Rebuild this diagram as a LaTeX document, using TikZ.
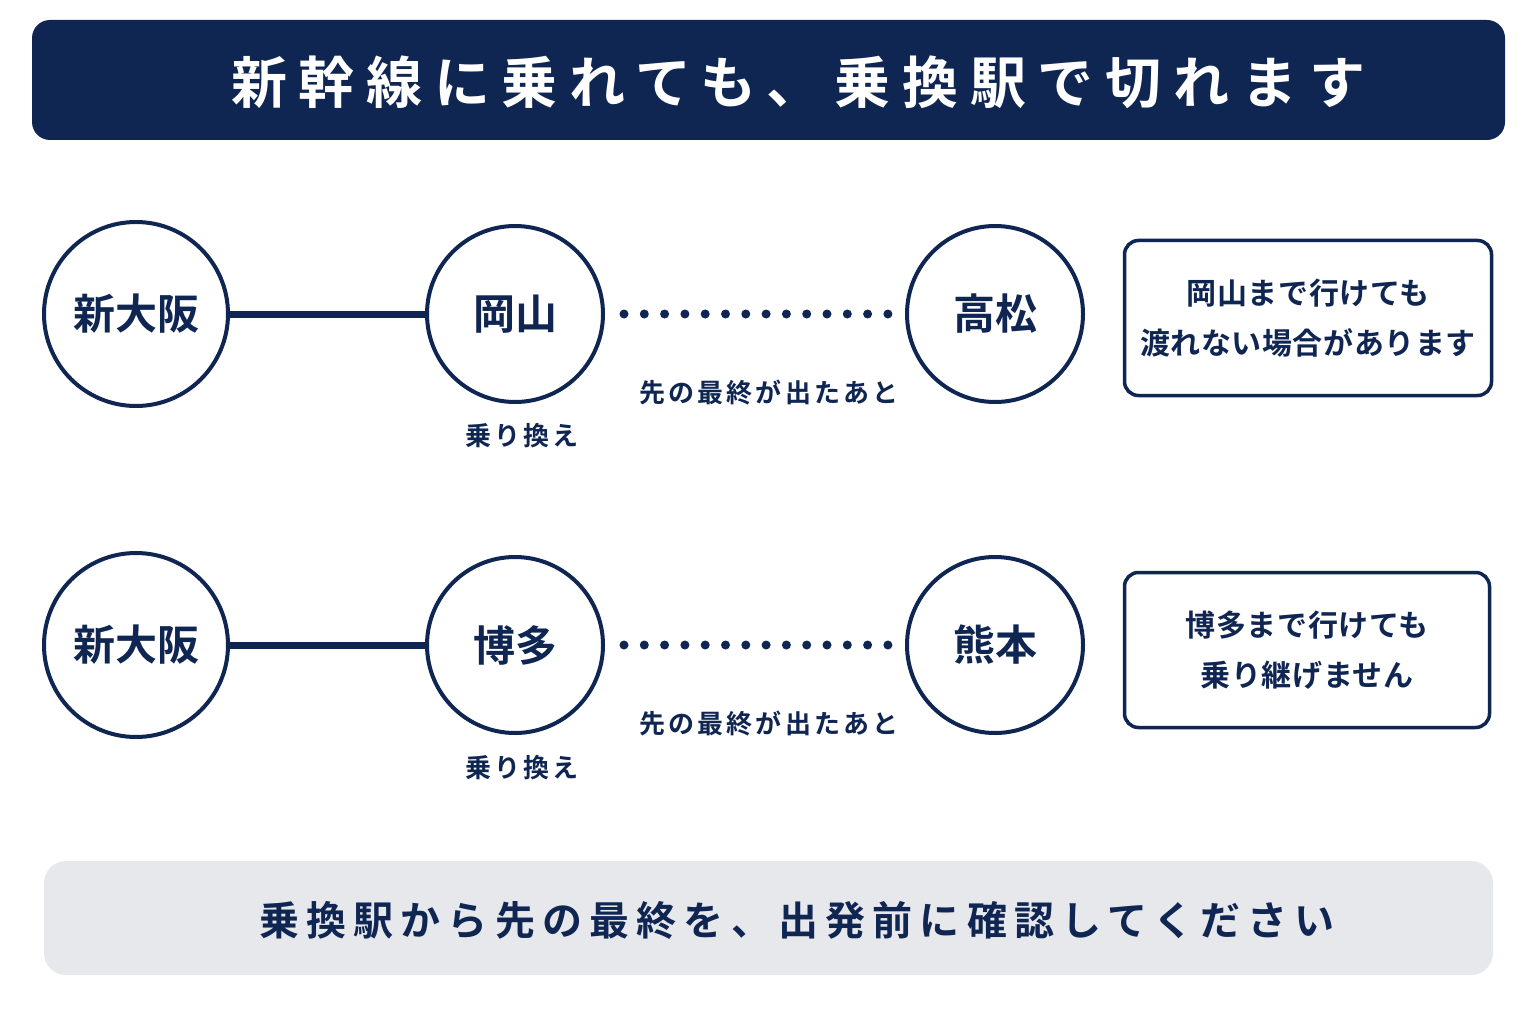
\documentclass[tikz,border=0pt]{standalone}
\usepackage{fontspec}
\setmainfont{Noto Sans CJK JP Bold}
\definecolor{navy}{HTML}{0F2552}
\definecolor{panel}{HTML}{E7E8EC}
\begin{document}
\begin{tikzpicture}[x=1pt, y=-1pt,
    station/.style={circle, draw=navy, line width=4pt, fill=white, text=navy, font=\fontsize{42}{46}\selectfont},
    note/.style={rectangle, rounded corners=14pt, draw=navy, line width=3.5pt, text=navy, align=center, font=\fontsize{30}{50}\selectfont\addfontfeature{LetterSpace=2}},
    small/.style={text=navy, font=\fontsize{26}{30}\selectfont\addfontfeature{LetterSpace=12}},
    solidline/.style={navy, line width=7pt},
    dotline/.style={navy, line width=9pt, line cap=round, dash pattern=on 0pt off 20.3pt}
    ]
    \useasboundingbox (0,0) rectangle (1536,1024);
    \fill[white] (0,0) rectangle (1536,1024);
    % title bar
    \fill[navy, rounded corners=18pt] (32,20) rectangle (1505,140);
    \node[text=white, font=\fontsize{56}{60}\selectfont\addfontfeature{LetterSpace=21}] (title) at (798,82) {新幹線に乗れても、乗換駅で切れます};
    % first route
    \node[station, minimum size=184pt] (osaka1) at (136,314) {新大阪};
    \node[station, minimum size=176pt] (okayama) at (515,314) {岡山};
    \node[station, minimum size=176pt] (takamatsu) at (995,314) {高松};
    \draw[solidline] (osaka1) -- (okayama);
    \draw[dotline] ([xshift=19pt]okayama.east) -- ([xshift=-17pt]takamatsu.west);
    \node[small] (last1) at (769,393) {先の最終が出たあと};
    \node[small] (change1) at (522,436) {乗り換え};
    \node[note, minimum width=367pt, minimum height=155pt] (note1) at (1308,318) {岡山まで行けても\\渡れない場合があります};
    % second route
    \node[station, minimum size=184pt] (osaka2) at (136,645) {新大阪};
    \node[station, minimum size=176pt] (hakata) at (515,645) {博多};
    \node[station, minimum size=176pt] (kumamoto) at (995,645) {熊本};
    \draw[solidline] (osaka2) -- (hakata);
    \draw[dotline] ([xshift=19pt]hakata.east) -- ([xshift=-17pt]kumamoto.west);
    \node[small] (last2) at (769,724) {先の最終が出たあと};
    \node[small] (change2) at (522,768) {乗り換え};
    \node[note, minimum width=365pt, minimum height=155pt] (note2) at (1307,650) {博多まで行けても\\乗り継げません};
    % bottom panel
    \fill[panel, rounded corners=22pt] (44,861) rectangle (1493,975);
    \node[text=navy, font=\fontsize{40}{44}\selectfont\addfontfeature{LetterSpace=18}] (advice) at (797,920) {乗換駅から先の最終を、出発前に確認してください};
\end{tikzpicture}
\end{document}
